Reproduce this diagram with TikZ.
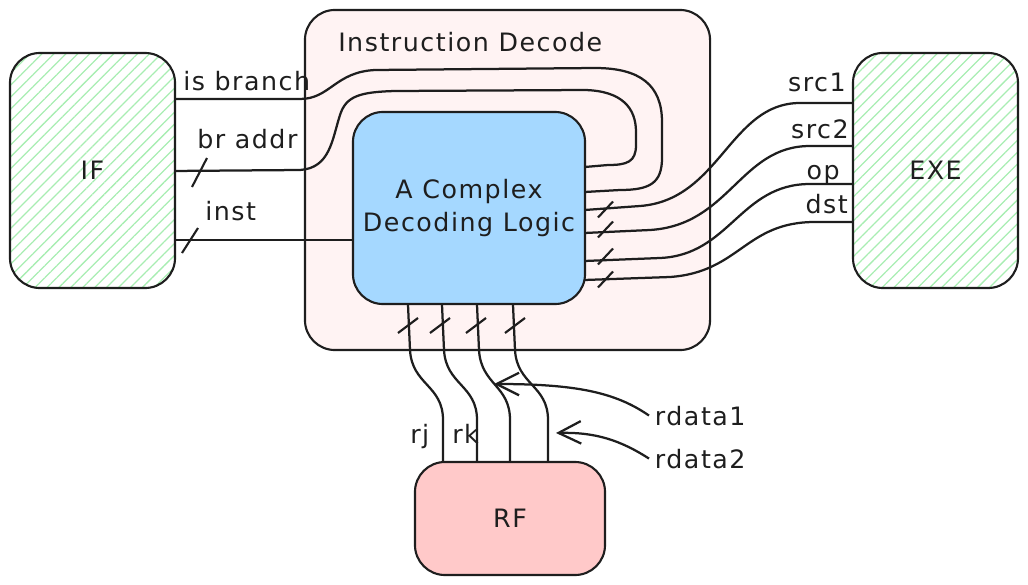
\documentclass[tikz,border=0pt]{standalone}
\usepackage{fontspec}
\setmainfont{DejaVu Sans}[LetterSpace=6]
\usetikzlibrary{patterns.meta,arrows.meta,calc}

\definecolor{ink}{HTML}{1E1E1E}
\definecolor{hatch}{HTML}{A8EDB2}
\definecolor{idfill}{HTML}{FFF3F3}
\definecolor{logicfill}{HTML}{A5D8FF}
\definecolor{rffill}{HTML}{FFC9C9}

\tikzset{
  block/.style={draw=ink, line width=1.5pt, rounded corners=0.75cm, inner sep=0pt, outer sep=0pt,
    font=\fontsize{18}{24}\selectfont, text=ink, align=center},
  stage/.style={block, pattern={Lines[angle=45,distance=6pt,line width=0.9pt]}, pattern color=hatch},
  wire/.style={draw=ink, line width=1.6pt},
  tick/.style={draw=ink, line width=1.5pt},
  lbl/.style={font=\fontsize{18}{24}\selectfont, text=ink, inner sep=0pt},
}

\begin{document}
\begin{tikzpicture}[x=0.025cm, y=-0.025cm, >={Straight Barb[length=16pt,width=16pt]}]
    \useasboundingbox (0,0) rectangle (1028,585);

    % Define stage blocks
    \node[block, fill=idfill, minimum width=10.125cm, minimum height=8.5cm] (id) at (507.5,180) {};
    \node[lbl, anchor=base west] (idlbl) at (338,52) {Instruction Decode};
    \node[stage, minimum width=4.125cm, minimum height=5.875cm] (IF) at (92.5,170.5) {IF};
    \node[stage, minimum width=4.125cm, minimum height=5.875cm] (EXE) at (935.5,170.5) {EXE};
    \node[block, fill=logicfill, minimum width=5.8cm, minimum height=4.8cm] (logic) at (469,208) {A Complex\\Decoding Logic};
    \node[block, fill=rffill, minimum width=4.75cm, minimum height=2.825cm] (RF) at (510,518.5) {RF};

    % Wire end points on the blocks
    \coordinate (isbIF) at ($(IF.north east)+(0,46)$);
    \coordinate (braIF) at ($(IF.north east)+(0,118)$);
    \coordinate (instIF) at ($(IF.north east)+(0,187)$);
    \coordinate (isbD) at ($(logic.north east)+(0,80)$);
    \coordinate (braD) at ($(logic.north east)+(0,55)$);
    \coordinate (outA) at ($(logic.north east)+(0,98)$);
    \coordinate (outB) at ($(logic.north east)+(0,121)$);
    \coordinate (outC) at ($(logic.north east)+(0,149)$);
    \coordinate (outD) at ($(logic.north east)+(0,168)$);
    \coordinate (src1) at ($(EXE.north west)+(0,50)$);
    \coordinate (src2) at ($(EXE.north west)+(0,93)$);
    \coordinate (op) at ($(EXE.north west)+(0,131)$);
    \coordinate (dst) at ($(EXE.north west)+(0,169)$);
    \coordinate (botA) at ($(logic.south west)+(55,0)$);
    \coordinate (botB) at ($(logic.south west)+(89,0)$);
    \coordinate (botC) at ($(logic.south west)+(124,0)$);
    \coordinate (botD) at ($(logic.south west)+(160,0)$);
    \coordinate (rj) at ($(RF.north west)+(28,0)$);
    \coordinate (rk) at ($(RF.north west)+(62,0)$);
    \coordinate (rfC) at ($(RF.north west)+(95,0)$);
    \coordinate (rfD) at ($(RF.north west)+(133,0)$);
    \coordinate (tipA) at (494,384);
    \coordinate (tipB) at (556,433);

    % IF <-> ID wires
    \draw[wire] (isbIF) -- (300,99) .. controls (330,99) and (335,72) .. (375,70) -- (595,68)
        .. controls (640,68) and (662,85) .. (662,122) -- (662,158)
        .. controls (662,183) and (650,190) .. (620,190) -- (isbD);
    \draw[wire] (braIF) -- (300,170) .. controls (330,168) and (332,140) .. (340,115)
        .. controls (346,96) and (360,92) .. (395,91) -- (585,90)
        .. controls (622,91) and (636,108) .. (636,132) -- (636,145)
        .. controls (636,162) and (627,165) .. (608,165) -- (braD);
    \draw[wire] (instIF) -- (logic.west |- instIF);
    \node[lbl, anchor=base west] (isblbl) at (183,90) {is branch};
    \node[lbl, anchor=base west] (bralbl) at (197,148) {br addr};
    \node[lbl, anchor=base west] (instlbl) at (205,220) {inst};
    \draw[tick] (192,187) -- (207,158);
    \draw[tick] (182,253) -- (198,228);

    % ID -> EXE wires
    \draw[wire] (outA) -- (640,206) .. controls (720,200) and (730,103) .. (800,103) -- (src1);
    \draw[wire] (outB) -- (650,230) .. controls (730,225) and (740,146) .. (810,146) -- (src2);
    \draw[wire] (outC) -- (660,258) .. controls (730,255) and (740,184) .. (810,184) -- (op);
    \draw[wire] (outD) -- (670,277) .. controls (740,272) and (745,222) .. (815,222) -- (dst);
    \foreach \y in {209.5,229.5,256.5,279.5}
        \draw[tick] (598,\y+8) -- (613,\y-8);
    \node[lbl, anchor=base east] (src1lbl) at (846,91) {src1};
    \node[lbl, anchor=base east] (src2lbl) at (849,138) {src2};
    \node[lbl, anchor=base east] (oplbl) at (840,179) {op};
    \node[lbl, anchor=base east] (dstlbl) at (848,213) {dst};

    % ID <-> RF wires
    \draw[wire] (botA) -- (410,350) .. controls (412,385) and (443,385) .. (443,420) -- (rj);
    \draw[wire] (botB) -- (444,350) .. controls (446,385) and (477,385) .. (477,420) -- (rk);
    \draw[wire] (botC) -- (479,350) .. controls (481,385) and (510,385) .. (510,420) -- (rfC);
    \draw[wire] (botD) -- (515,350) .. controls (517,385) and (548,385) .. (548,420) -- (rfD);
    \foreach \x in {408,440,476,515}
        \draw[tick] (\x-10,333) -- (\x+10,318);
    \node[lbl, anchor=base west] (rjlbl) at (410,443) {rj};
    \node[lbl, anchor=base west] (rklbl) at (452,443) {rk};

    % Read data
    \node[lbl, inner sep=4pt, anchor=base west] (rd1) at (649,425) {rdata1};
    \node[lbl, inner sep=4pt, anchor=base west] (rd2) at (649,468) {rdata2};
    \draw[wire, ->] (rd1.west) .. controls (615,392) and (575,384) .. (tipA);
    \draw[wire, ->] (rd2.west) .. controls (620,440) and (595,432) .. (tipB);

\end{tikzpicture}
\end{document}
